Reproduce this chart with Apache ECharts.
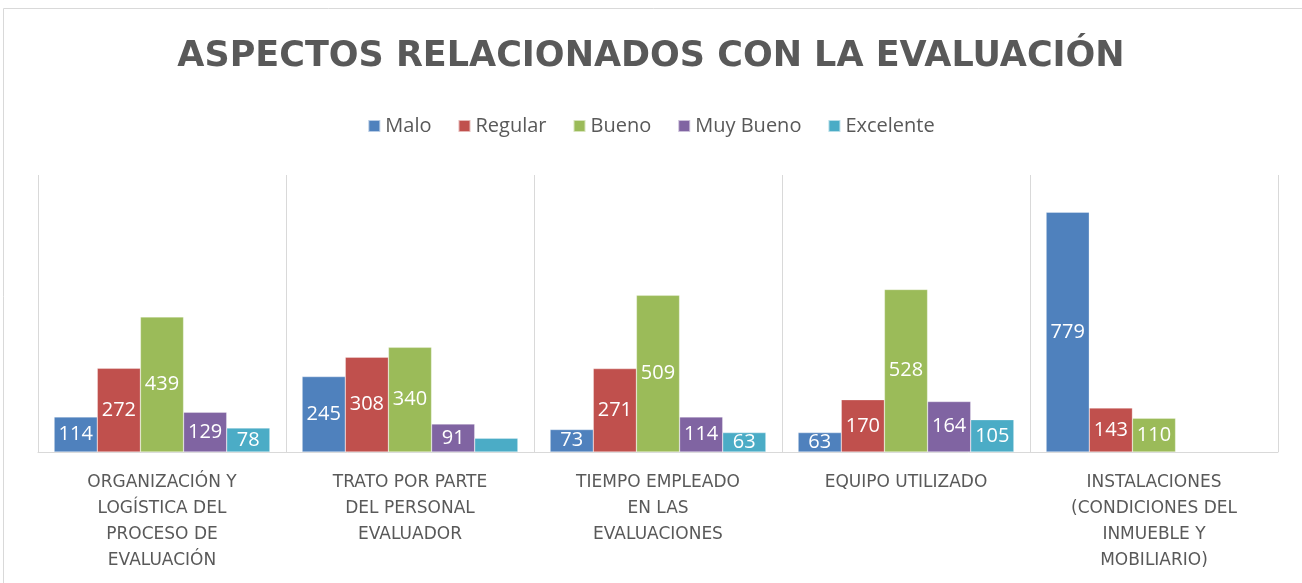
<!DOCTYPE html>
<html lang="es">
  <head>
    <meta charset="UTF-8" />
    <title>Aspectos relacionados con la evaluación</title>
    <style>
      * {
        margin: 0;
        padding: 0;
        box-sizing: border-box;
      }
      #main {
        width: 1302px;
        height: 583px;
        background-color: #fff;
      }
    </style>
  </head>
  <body>
    <div id="main"></div>
    <script src="https://cdn.jsdelivr.net/npm/echarts@6/dist/echarts.min.js"></script>
    <script>
      // categorías (con saltos de línea como en el original)
      const categories = [
        "ORGANIZACIÓN Y\nLOGÍSTICA DEL\nPROCESO DE\nEVALUACIÓN",
        "TRATO POR PARTE\nDEL PERSONAL\nEVALUADOR",
        "TIEMPO EMPLEADO\nEN LAS\nEVALUACIONES",
        "EQUIPO UTILIZADO",
        "INSTALACIONES\n(CONDICIONES DEL\nINMUEBLE Y\nMOBILIARIO)",
      ];
      const seriesNames = ["Malo", "Regular", "Bueno", "Muy Bueno", "Excelente"];
      const malo = [114, 245, 73, 63, 779];
      const regular = [272, 308, 271, 170, 143];
      const bueno = [439, 340, 509, 528, 110];
      const muyBueno = [129, 91, 114, 164, null];
      const excelente = [78, 45, 63, 105, null];
      const colors = ["#4f81bd", "#c0504d", "#9bbb59", "#8064a2", "#4bacc6"];

      const values = [malo, regular, bueno, muyBueno, excelente];
      const txt = "#595959";

      const myChart = echarts.init(document.getElementById("main"));
      const option = {
        color: colors,
        title: {
          text: "ASPECTOS RELACIONADOS CON LA EVALUACIÓN",
          left: "center",
          top: 34,
          textStyle: {
            fontFamily: "DejaVu Sans",
            fontWeight: "bold",
            fontSize: 35,
            color: txt,
          },
        },
        legend: {
          top: 111,
          left: "center",
          itemWidth: 12,
          itemHeight: 12,
          itemGap: 26,
          icon: "rect",
          textStyle: { fontFamily: "Open Sans", fontSize: 20, color: txt },
          data: seriesNames,
        },
        graphic: [
          {
            type: "rect",
            shape: { x: 3.5, y: 8.5, width: 1310, height: 590 },
            style: { fill: "none", stroke: "#d9d9d9", lineWidth: 1 },
            silent: true,
          },
        ],
        grid: { left: 38, right: 24, top: 175, bottom: 131 },
        xAxis: {
          type: "category",
          data: categories,
          axisLine: { lineStyle: { color: "#d9d9d9", width: 1 } },
          axisTick: { show: false },
          splitLine: { show: true, lineStyle: { color: "#d9d9d9" } },
          axisLabel: {
            margin: 18,
            fontFamily: "DejaVu Sans",
            fontSize: 17,
            lineHeight: 26,
            color: txt,
            interval: 0,
          },
        },
        yAxis: {
          type: "value",
          min: 0,
          max: 900,
          show: false,
          splitLine: { show: false },
        },
        series: seriesNames.map((name, i) => ({
          name: name,
          type: "bar",
          barGap: "0%",
          barCategoryGap: "13%",
          data: values[i].map((v, j) =>
            // la etiqueta de Excelente en el 2º grupo no aparece en el original
            i === 4 && j === 1 ? { value: v, label: { show: false } } : v
          ),
          itemStyle: { borderColor: "rgba(255,255,255,0.6)", borderWidth: 0.5 },
          label: {
            show: true,
            position: "inside",
            color: "#fff",
            fontFamily: "Open Sans",
            fontSize: 20,
          },
        })),
      };
      myChart.setOption(option);
    </script>
  </body>
</html>
